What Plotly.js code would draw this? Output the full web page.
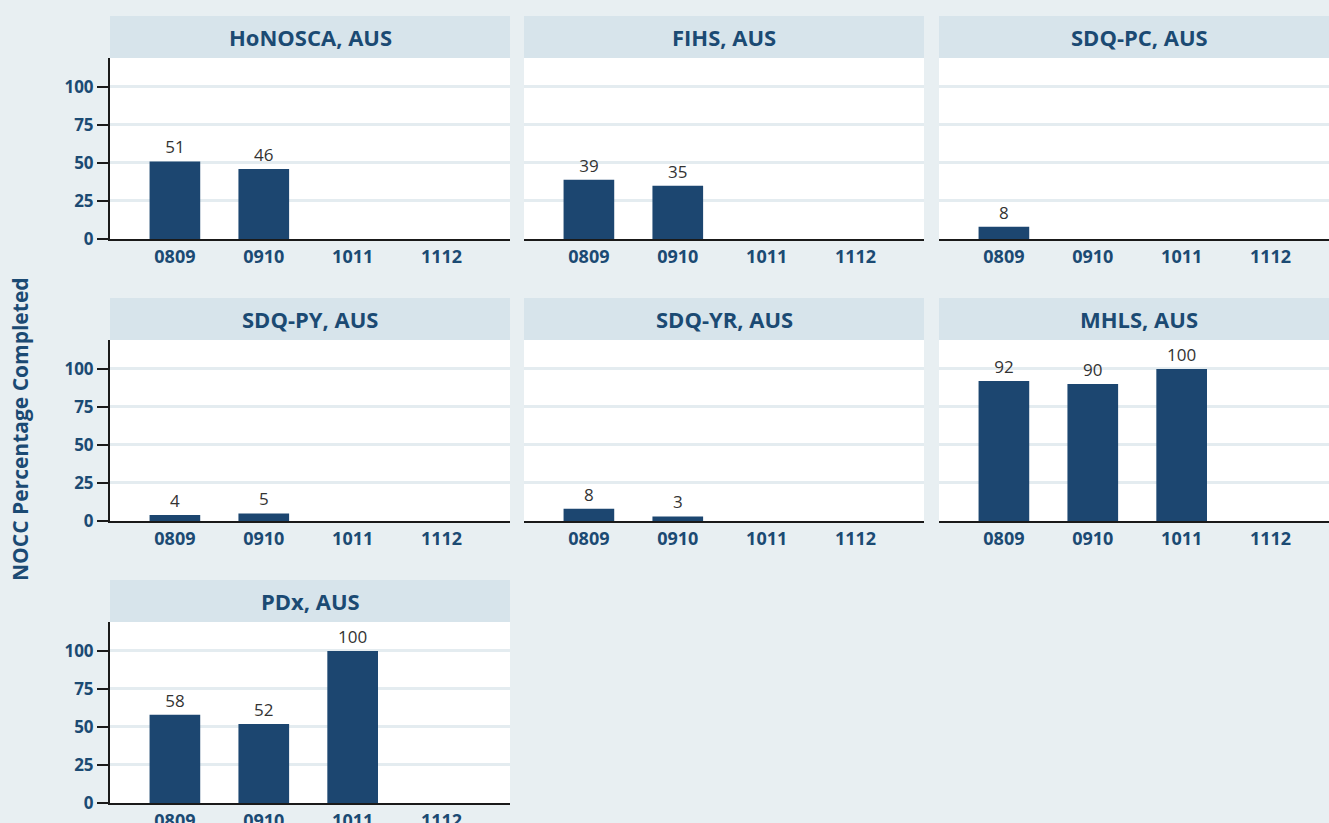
<!DOCTYPE html>
<html>
<head>
<meta charset="utf-8">
<script src="https://cdn.plot.ly/plotly-3.0.1.min.js"></script>
<style>
  html, body { margin: 0; padding: 0; overflow: hidden; background: #e8eff2; }
</style>
</head>
<body>
<div id="chart"></div>
<script>
// NOCC percentage completed by collection, small multiples

var years = ['0809', '0910', '1011', '1112'];

var panelTitles = ['HoNOSCA, AUS', 'FIHS, AUS', 'SDQ-PC, AUS',
                   'SDQ-PY, AUS', 'SDQ-YR, AUS', 'MHLS, AUS', 'PDx, AUS'];

var honosca = [51, 46, null, null];
var fihs    = [39, 35, null, null];
var sdqPc   = [8, null, null, null];
var sdqPy   = [4, 5, null, null];
var sdqYr   = [8, 3, null, null];
var mhls    = [92, 90, 100, null];
var pdx     = [58, 52, 100, null];

var yTicks = [0, 25, 50, 75, 100];

var seriesList = [honosca, fihs, sdqPc, sdqPy, sdqYr, mhls, pdx];

// page size (a bit wider than the window, right column is cut off like the original)
var W = 1340, H = 823;
var colLeft = [110, 524, 939];
var plotW = 400;
var rowBottom = [239, 521, 803];
var plotH = 181;
var stripH = 42;

var navy = '#1c4670';
var textBlue = '#1b4a73';

function px(x) { return x / W; }
function py(y) { return (H - y) / H; }

var data = [];
var layout = {
    width: W,
    height: H,
    margin: { l: 0, r: 0, t: 0, b: 0 },
    paper_bgcolor: '#e8eff2',
    plot_bgcolor: '#ffffff',
    showlegend: false,
    bargap: 0.43,
    font: { family: 'Open Sans, sans-serif', color: textBlue },
    shapes: [],
    annotations: []
};

seriesList.forEach(function (vals, i) {
    var row = Math.floor(i / 3), col = i % 3;
    var n = i === 0 ? '' : String(i + 1);
    var left = colLeft[col], bottom = rowBottom[row], top = bottom - plotH;

    data.push({
        type: 'bar',
        x: years,
        y: vals,
        xaxis: 'x' + n,
        yaxis: 'y' + n,
        marker: { color: navy, line: { width: 0 } },
        text: vals.map(function (v) { return v === null ? '' : String(v); }),
        textposition: 'outside',
        textfont: { family: 'Open Sans, sans-serif', size: 17, color: '#333333' },
        cliponaxis: false,
        hoverinfo: 'x+y'
    });

    layout['xaxis' + n] = {
        domain: [px(left), Math.min(1, px(left + plotW))],
        anchor: 'y' + n,
        type: 'category',
        categoryorder: 'array',
        categoryarray: years,
        range: [-0.73, 3.77],
        showline: true,
        linecolor: '#1a1a1a',
        linewidth: 2,
        ticks: '',
        showgrid: false,
        tickfont: { family: 'Open Sans, sans-serif', size: 18, color: textBlue, weight: 'bold' },
        fixedrange: true
    };

    var isLeft = col === 0;
    layout['yaxis' + n] = {
        domain: [py(bottom), py(top)],
        anchor: 'x' + n,
        range: [0, 119],
        tickvals: yTicks,
        showgrid: true,
        gridcolor: '#e4ecf0',
        gridwidth: 3,
        zeroline: false,
        showline: isLeft,
        linecolor: '#1a1a1a',
        linewidth: 2,
        ticks: isLeft ? 'outside' : '',
        ticklen: 11,
        tickwidth: 2,
        tickcolor: '#1a1a1a',
        showticklabels: isLeft,
        tickfont: { family: 'Open Sans, sans-serif', size: 17, color: textBlue, weight: 'bold' },
        fixedrange: true
    };

    // header strip
    layout.shapes.push({
        type: 'rect', xref: 'paper', yref: 'paper', layer: 'below',
        x0: px(left), x1: Math.min(1, px(left + plotW)),
        y0: py(top), y1: py(top - stripH),
        fillcolor: '#d7e4eb', line: { width: 0 }
    });
    layout.annotations.push({
        xref: 'paper', yref: 'paper',
        x: px(left + plotW / 2), y: py(top - stripH / 2),
        xanchor: 'center', yanchor: 'middle',
        text: '<b>' + panelTitles[i] + '</b>',
        showarrow: false,
        font: { family: 'Open Sans, sans-serif', size: 22, color: textBlue }
    });
});

// shared y title
layout.annotations.push({
    xref: 'paper', yref: 'paper',
    x: px(20), y: py(429),
    xanchor: 'center', yanchor: 'middle',
    textangle: -90,
    text: '<b>NOCC Percentage Completed</b>',
    showarrow: false,
    font: { family: 'Open Sans, sans-serif', size: 21, color: textBlue }
});

Plotly.newPlot('chart', data, layout, { displayModeBar: false, staticPlot: true });
</script>
</body>
</html>
